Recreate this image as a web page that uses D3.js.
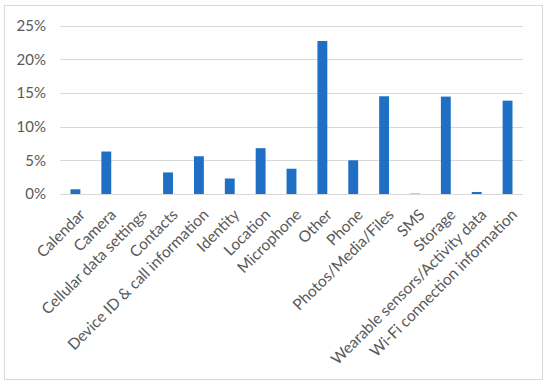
<!DOCTYPE html>
<html lang="en">
<head>
<meta charset="utf-8">
<title>Permission categories</title>
<script src="https://d3js.org/d3.v7.min.js"></script>
<style>
  body { margin: 0; background: #fff; }
  svg text { font-family: Lato, "Open Sans", sans-serif; fill: #595959; }
</style>
</head>
<body>
<div id="chart"></div>
<script>
// categories and shares (percent)
var categories = ["Calendar", "Camera", "Cellular data settings", "Contacts",
  "Device ID & call information", "Identity", "Location", "Microphone", "Other",
  "Phone", "Photos/Media/Files", "SMS", "Storage",
  "Wearable sensors/Activity data", "Wi-Fi connection information"];
var values = [0.7, 6.3, 0, 3.2, 5.6, 2.3, 6.8, 3.75, 22.7, 5.0, 14.5, 0.05, 14.45, 0.3, 13.85];
var yTicks = [0, 5, 10, 15, 20, 25];

var W = 550, H = 386;
var margin = {top: 25.5, right: 27, bottom: 192, left: 60};

var svg = d3.select("#chart").append("svg")
  .attr("width", W).attr("height", H);

// outer frame
svg.append("rect")
  .attr("x", 4.5).attr("y", 5.5)
  .attr("width", 538).attr("height", 374)
  .attr("fill", "none").attr("stroke", "#d9d9d9");

var x = d3.scaleBand()
  .domain(categories)
  .range([margin.left, W - margin.right])
  .paddingInner(0.68).paddingOuter(0.34);

var y = d3.scaleLinear()
  .domain([0, 25])
  .range([H - margin.bottom, margin.top]);

// gridlines
svg.append("g").selectAll("line")
  .data(yTicks)
  .join("line")
    .attr("x1", margin.left).attr("x2", W - margin.right)
    .attr("y1", d => Math.round(y(d)) + 0.5).attr("y2", d => Math.round(y(d)) + 0.5)
    .attr("stroke", "#d9d9d9").attr("stroke-width", 1);

// y axis labels
var yAxis = svg.append("g")
  .attr("transform", "translate(" + (margin.left - 14) + ",0)")
  .call(d3.axisLeft(y).tickValues(yTicks).tickFormat(d => d + "%").tickSize(0));
yAxis.select(".domain").remove();
yAxis.selectAll("text").attr("font-size", 15).attr("dx", 0).attr("x", 0);

// bars
svg.append("g").selectAll("rect")
  .data(values)
  .join("rect")
    .attr("x", (d, i) => x(categories[i]))
    .attr("y", d => y(d))
    .attr("width", x.bandwidth())
    .attr("height", d => y(0) - y(d))
    .attr("fill", "#1f6fc5");

// x labels, rotated
svg.append("g").selectAll("text")
  .data(categories)
  .join("text")
    .attr("transform", d => "translate(" + (x(d) + x.bandwidth() / 2 + 3) + "," + (y(0) + 14) + ") rotate(-45)")
    .attr("text-anchor", "end")
    .attr("dy", "0.7em")
    .attr("font-size", 15.5)
    .text(d => d);
</script>
</body>
</html>
